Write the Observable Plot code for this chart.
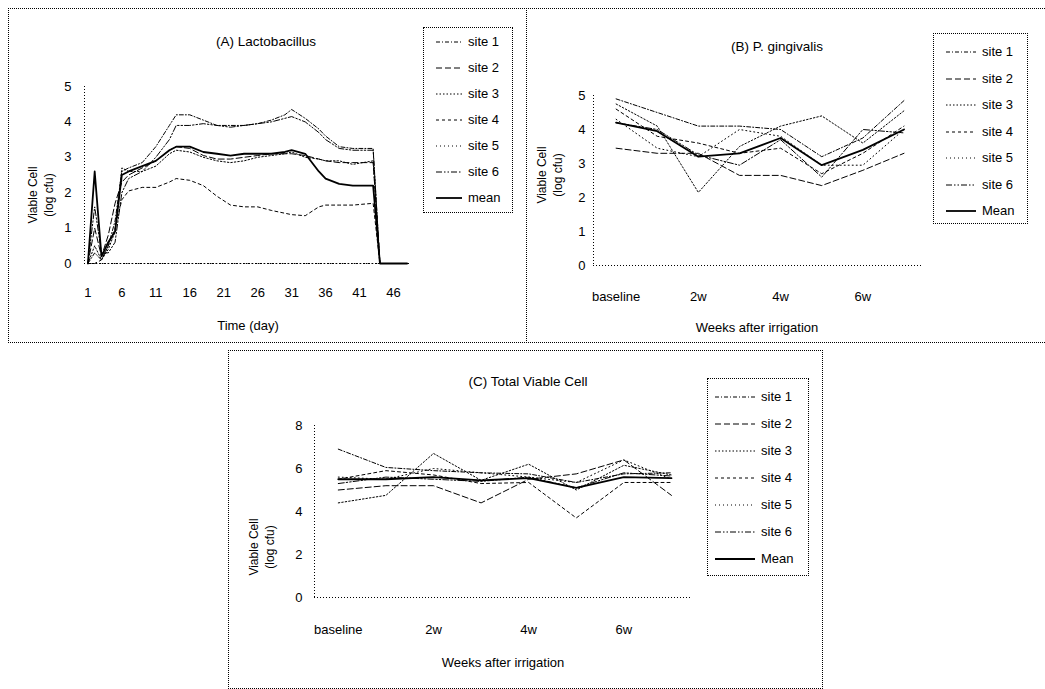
<!DOCTYPE html>
<html>
<head>
<meta charset="utf-8">
<script src="https://cdn.jsdelivr.net/npm/d3@7"></script>
<script src="https://cdn.jsdelivr.net/npm/@observablehq/plot@0.6"></script>
<style>
  body { margin: 0; background: #fff; }
  #root { position: relative; width: 1045px; height: 689px; overflow: hidden;
          font-family: "Liberation Sans", Arial, sans-serif; color: #000; background: #fff; }
  .box { position: absolute; border: 1px dotted #000; box-sizing: border-box; }
  .t { position: absolute; white-space: nowrap; font-size: 13px; line-height: 1; }
  .plot { position: absolute; }
</style>
</head>
<body>
<div id="root"></div>
<script>
// ---------- Data ----------
const SERIES = ["site 1", "site 2", "site 3", "site 4", "site 5", "site 6", "Mean"];

// Panel A: Lactobacillus, by day
const DAYS_A = [1,2,3,4,5,6,7,9,11,13,14,16,18,20,22,24,26,28,30,31,33,35,36,38,40,43,44,46,48];
const DAY_TICKS_A = [1,6,11,16,21,26,31,36,41,46];
const A_site1 = [0,0.3,0.1,0.5,1.2,2.6,2.7,2.85,3.3,3.9,4.2,4.2,4.05,3.9,3.9,3.9,3.95,4.05,4.2,4.35,4.1,3.8,3.6,3.3,3.25,3.25,0,0,0];
const A_site2 = [0,1.0,0.2,0.8,1.7,2.3,2.5,2.7,2.9,3.2,3.3,3.25,3.05,2.95,2.95,3.0,3.05,3.1,3.1,3.1,3.05,2.95,2.9,2.85,2.85,2.85,0,0,0];
const A_site3 = [0,0.5,0.1,0.4,0.9,2.7,2.6,2.6,2.75,3.1,3.2,3.15,3.0,2.9,2.85,2.9,3.0,3.05,3.1,3.15,3.0,2.95,2.9,2.9,2.8,2.9,0,0,0];
const A_site4 = [0,0,0.1,0.5,1.0,1.8,2.05,2.15,2.15,2.3,2.4,2.35,2.2,1.9,1.65,1.6,1.6,1.5,1.42,1.38,1.35,1.6,1.65,1.65,1.65,1.7,0,0,0];
const A_site5 = [0,0,0,0,0,0,0,0,0,0,0,0,0,0,0,0,0,0,0,0,0,0,0,0,0,0,0,0,0];
const A_site6 = [0,1.6,0.3,0.3,0.6,2.0,2.4,2.6,3.0,3.5,3.9,3.9,3.95,3.9,3.85,3.9,3.95,4.0,4.1,4.15,4.0,3.7,3.5,3.25,3.2,3.2,0,0,0];
const A_mean  = [0,2.6,0.2,0.6,0.9,2.5,2.6,2.75,2.9,3.2,3.3,3.3,3.15,3.1,3.05,3.1,3.1,3.1,3.15,3.2,3.1,2.6,2.4,2.25,2.2,2.2,0,0,0];

// Panels B and C: by week
const WEEKS = [0,1,2,3,4,5,6,7];
const WEEK_TICKS = [0,2,4,6];
const WEEK_LABELS = ["baseline","2w","4w","6w"];

const B_site1 = [4.9,4.5,4.1,4.1,4.0,3.2,3.75,4.85];
const B_site2 = [3.45,3.3,3.3,2.65,2.65,2.35,2.8,3.3];
const B_site3 = [4.75,4.1,2.15,3.5,4.1,4.4,3.6,4.55];
const B_site4 = [4.6,3.8,3.6,3.3,3.45,2.7,3.3,4.1];
const B_site5 = [4.3,3.45,3.2,4.0,3.8,2.95,2.95,4.0];
const B_site6 = [4.2,4.0,3.25,2.95,3.7,2.6,4.0,3.9];
const B_mean  = [4.2,3.95,3.2,3.3,3.75,2.95,3.4,4.0];

const C_site1 = [6.9,6.05,5.9,5.8,5.75,5.35,5.75,5.8];
const C_site2 = [5.0,5.2,5.2,4.4,5.5,5.75,6.4,4.75];
const C_site3 = [4.4,4.75,6.7,5.45,6.2,5.0,6.15,5.7];
const C_site4 = [5.5,5.9,5.7,5.3,5.35,3.7,5.35,5.35];
const C_site5 = [5.6,5.5,6.0,5.8,5.6,5.35,6.4,5.5];
const C_site6 = [5.3,5.6,5.5,5.4,5.6,5.1,5.8,5.65];
const C_mean  = [5.5,5.5,5.6,5.45,5.55,5.1,5.6,5.55];

// ---------- Styles ----------
const DASH = {
  "site 1": "4 2 1 2",
  "site 2": "6 3",
  "site 3": "1.5 2",
  "site 4": "3 3",
  "site 5": "1 3",
  "site 6": "6 2 1.5 2 1.5 2",
  "Mean": null
};
const FONT = '"Liberation Sans", Arial, sans-serif';
const root = document.getElementById("root");

function table(xs, cols) {
  return SERIES.map((s, i) => xs.map((x, j) => ({x, y: cols[i][j], s})));
}
function lineMarks(tbl) {
  return tbl.map(rows => {
    const s = rows[0].s;
    return Plot.line(rows, {x: "x", y: "y", stroke: "#000",
      strokeWidth: s === "Mean" ? 1.8 : 1,
      strokeDasharray: DASH[s] || undefined});
  });
}
function place(el, left, top) {
  el.classList.add("plot");
  el.style.left = left + "px"; el.style.top = top + "px";
  root.appendChild(el);
}
function box(l, t, w, h, extra) {
  const d = document.createElement("div");
  d.className = "box";
  Object.assign(d.style, {left: l + "px", top: t + "px", width: w + "px", height: h + "px"}, extra || {});
  root.appendChild(d);
}
function text(str, cx, cy, size) {
  const d = document.createElement("div");
  d.className = "t";
  d.textContent = str;
  if (size) d.style.fontSize = size + "px";
  d.style.left = cx + "px"; d.style.top = cy + "px";
  d.style.transform = "translate(-50%,-50%)";
  root.appendChild(d);
}
function ylabel(cx, cy) {
  const d = document.createElement("div");
  d.className = "t";
  d.style.fontSize = "12px";
  d.innerHTML = "Viable Cell<br>(log cfu)";
  Object.assign(d.style, {left: cx + "px", top: cy + "px", textAlign: "center", lineHeight: "1.3",
    transform: "translate(-50%,-50%) rotate(-90deg)"});
  root.appendChild(d);
}
function legend(l, t, w, h, y0, dy, sx0, sx1, tx, labels) {
  box(l, t, w, h);
  labels.forEach((lab, i) => {
    const s = SERIES[i];
    const y = y0 + i * dy;
    const svg = document.createElementNS("http://www.w3.org/2000/svg", "svg");
    svg.setAttribute("width", sx1 - sx0); svg.setAttribute("height", 4);
    svg.style.position = "absolute"; svg.style.left = sx0 + "px"; svg.style.top = (y - 2) + "px";
    const ln = document.createElementNS("http://www.w3.org/2000/svg", "line");
    ln.setAttribute("x1", 0); ln.setAttribute("x2", sx1 - sx0);
    ln.setAttribute("y1", 2); ln.setAttribute("y2", 2);
    ln.setAttribute("stroke", "#000");
    ln.setAttribute("stroke-width", s === "Mean" ? 1.8 : 1);
    if (DASH[s]) ln.setAttribute("stroke-dasharray", DASH[s]);
    svg.appendChild(ln);
    root.appendChild(svg);
    const d = document.createElement("div");
    d.className = "t"; d.textContent = lab;
    d.style.left = tx + "px"; d.style.top = (y - 7) + "px";
    root.appendChild(d);
  });
}
const axisRule = {stroke: "#000", strokeWidth: 1, strokeDasharray: "1 2"};
const baseStyle = {fontFamily: FONT, fontSize: "13px", color: "#000", background: "transparent", overflow: "visible"};

// ---------- Panel A ----------
box(8, 8, 519, 335);
const plotA = Plot.plot({
  width: 518, height: 334,
  marginLeft: 76, marginRight: 116, marginTop: 78, marginBottom: 79,
  style: baseStyle,
  x: {domain: [0.5, 48.5], ticks: DAY_TICKS_A, tickFormat: d => String(d), tickSize: 0, tickPadding: 24, label: null},
  y: {domain: [0, 5], ticks: [0,1,2,3,4,5], tickFormat: d => String(d), tickSize: 0, tickPadding: 13, label: null},
  marks: [
    Plot.ruleX([0.5], axisRule),
    Plot.ruleY([0], axisRule),
    ...lineMarks(table(DAYS_A, [A_site1, A_site2, A_site3, A_site4, A_site5, A_site6, A_mean]))
  ]
});
place(plotA, 8, 8);
text("(A) Lactobacillus", 266, 42, 13.5);
text("Time (day)", 248, 325);
ylabel(42, 195);
legend(423, 27, 90, 186, 42, 26, 436, 462, 468,
  ["site 1","site 2","site 3","site 4","site 5","site 6","mean"]);

// ---------- Panel B ----------
box(526, 8, 519, 335, {borderRight: "none"});
const plotB = Plot.plot({
  width: 514, height: 334,
  marginLeft: 67, marginRight: 118, marginTop: 87, marginBottom: 77,
  style: baseStyle,
  x: {domain: [-0.55, 7.45], ticks: WEEK_TICKS, tickFormat: d => WEEK_LABELS[WEEK_TICKS.indexOf(d)], tickSize: 0, tickPadding: 26, label: null},
  y: {domain: [0, 5], ticks: [0,1,2,3,4,5], tickFormat: d => String(d), tickSize: 0, tickPadding: 8, label: null},
  marks: [
    Plot.ruleX([-0.55], axisRule),
    Plot.ruleY([0], axisRule),
    ...lineMarks(table(WEEKS, [B_site1, B_site2, B_site3, B_site4, B_site5, B_site6, B_mean]))
  ]
});
place(plotB, 526, 8);
text("(B) P. gingivalis", 777, 47, 13.5);
text("Weeks after irrigation", 757, 327);
ylabel(551, 175);
legend(933, 33, 95, 191, 52, 26.5, 946, 976, 982,
  ["site 1","site 2","site 3","site 4","site 5","site 6","Mean"]);

// ---------- Panel C ----------
box(228, 350, 595, 339);
const plotC = Plot.plot({
  width: 594, height: 338,
  marginLeft: 86, marginRight: 132, marginTop: 75, marginBottom: 91,
  style: baseStyle,
  x: {domain: [-0.5, 7.4], ticks: WEEK_TICKS, tickFormat: d => WEEK_LABELS[WEEK_TICKS.indexOf(d)], tickSize: 0, tickPadding: 27, label: null},
  y: {domain: [0, 8], ticks: [0,2,4,6,8], tickFormat: d => String(d), tickSize: 0, tickPadding: 12, label: null},
  marks: [
    Plot.ruleX([-0.5], axisRule),
    Plot.ruleY([0], axisRule),
    ...lineMarks(table(WEEKS, [C_site1, C_site2, C_site3, C_site4, C_site5, C_site6, C_mean]))
  ]
});
place(plotC, 228, 350);
text("(C) Total Viable Cell", 528, 382, 13.5);
text("Weeks after irrigation", 503, 662);
ylabel(263, 547);
legend(707, 378, 102, 198, 397, 27, 715, 755, 761,
  ["site 1","site 2","site 3","site 4","site 5","site 6","Mean"]);
</script>
</body>
</html>
